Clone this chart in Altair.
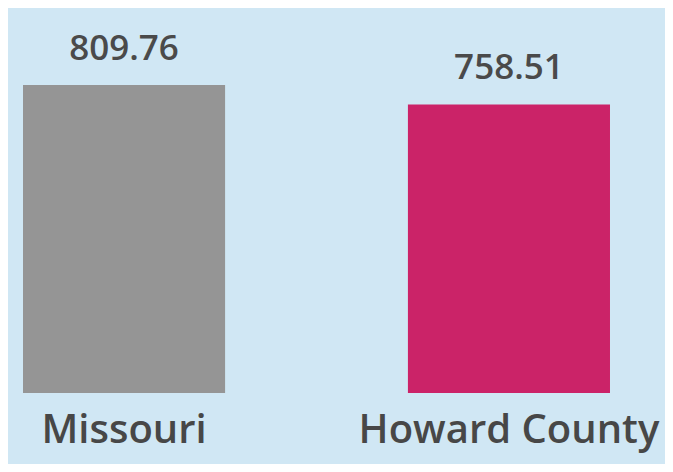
import altair as alt
import pandas as pd

categories = ["Missouri", "Howard County"]
values = [809.76, 758.51]
labels = ["809.76", "758.51"]
colors = ["#959595", "#cb2368"]

df = pd.DataFrame({"cat": categories, "val": values, "lab": labels})

x = alt.X("cat:N", sort=categories, title=None,
          scale=alt.Scale(paddingInner=0.475, paddingOuter=0.039),
          axis=alt.Axis(labelAngle=0, domain=False, ticks=False, labelPadding=17,
                        labelFont="Open Sans", labelFontSize=40, labelFontWeight=600,
                        labelColor="#474747", labelLimit=0))
y = alt.Y("val:Q", title=None, scale=alt.Scale(domain=[0, 1012], nice=False, zero=True),
          axis=None)

bars = alt.Chart(df).mark_bar().encode(
    x=x, y=y,
    color=alt.Color("cat:N", scale=alt.Scale(domain=categories, range=colors), legend=None),
)
text = alt.Chart(df).mark_text(dy=-25, baseline="alphabetic", font="Open Sans", fontSize=35,
                               fontWeight=600, color="#4a4a4a").encode(
    x=alt.X("cat:N", sort=categories), y="val:Q", text="lab:N")

chart = (bars + text).properties(
    width=617, height=385,
    autosize=alt.AutoSizeParams(type="none"),
    padding={"left": 0, "top": 0, "right": 40, "bottom": 71},
    background="#d0e7f4",
).configure_view(stroke=None)

chart.save("out.html", embed_options={"renderer": "svg", "actions": False})
